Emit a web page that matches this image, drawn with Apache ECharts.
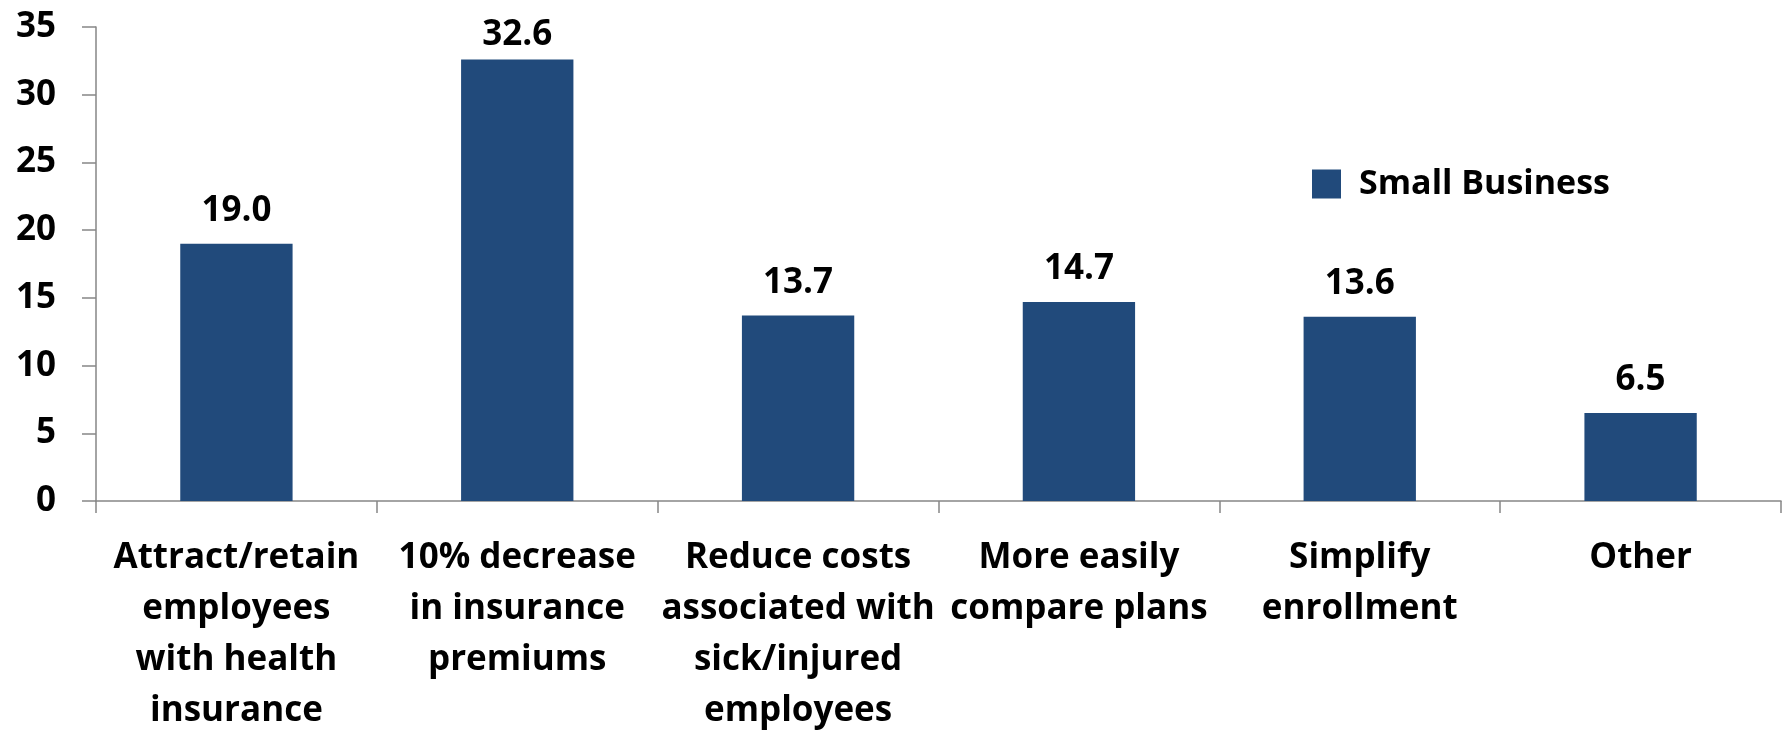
<!DOCTYPE html>
<html><head><meta charset="utf-8">
<script src="https://cdn.jsdelivr.net/npm/echarts@6/dist/echarts.min.js"></script>
<style>html,body{margin:0;padding:0;background:#fff}#c{width:1783px;height:731px}</style>
</head><body><div id="c"></div>
<script>
const categories = [
  "Attract/retain\nemployees\nwith health\ninsurance",
  "10% decrease\nin insurance\npremiums",
  "Reduce costs\nassociated with\nsick/injured\nemployees",
  "More easily\ncompare plans",
  "Simplify\nenrollment",
  "Other"
];
const seriesName = "Small Business";
const values = [19.0, 32.6, 13.7, 14.7, 13.6, 6.5];
const yTicks = [0, 5, 10, 15, 20, 25, 30, 35];

const font = "Open Sans";
const chart = echarts.init(document.getElementById('c'));
// the tallest bar's label sits closer to the bar in the original (kept inside the plot top)
const barData = values.map((v, i) => v === Math.max(...values) ? { value: v, label: { distance: 7 } } : v);
chart.setOption({
  animation: false,
  backgroundColor: '#fff',
  grid: { left: 96, top: 27, right: 2, bottom: 230, containLabel: false, outerBoundsMode: 'none' },
  legend: {
    data: [seriesName],
    left: 1312, top: 167, padding: 0,
    itemWidth: 29, itemHeight: 29, itemGap: 10,
    textStyle: { fontFamily: font, fontWeight: 'bold', fontSize: 34, color: '#000', padding: [0,0,0,13] },
    icon: 'rect'
  },
  xAxis: {
    type: 'category',
    data: categories,
    axisLine: { lineStyle: { color: '#868686', width: 1.5 } },
    axisTick: { show: true, length: 12, lineStyle: { color: '#868686', width: 1.5 } },
    axisLabel: { interval: 0, fontFamily: font, fontWeight: 'bold', fontSize: 35, color: '#000', lineHeight: 51, margin: 32 }
  },
  yAxis: {
    type: 'value', min: 0, max: 35, interval: 5,
    axisLine: { show: true, lineStyle: { color: '#868686', width: 1.5 } },
    axisTick: { show: true, length: 14, lineStyle: { color: '#868686', width: 1.5 } },
    splitLine: { show: false },
    axisLabel: { fontFamily: font, fontWeight: 'bold', fontSize: 35, color: '#000', margin: 40,
      formatter: v => yTicks.includes(v) ? String(v) : '' }
  },
  series: [{
    name: seriesName,
    type: 'bar',
    data: barData,
    barCategoryGap: '60%',
    itemStyle: { color: '#214A7B' },
    label: { show: true, position: 'top', distance: 15, fontFamily: font, fontWeight: 'bold', fontSize: 35, color: '#000',
      formatter: p => Number(p.value).toFixed(1) }
  }]
});
</script></body></html>
